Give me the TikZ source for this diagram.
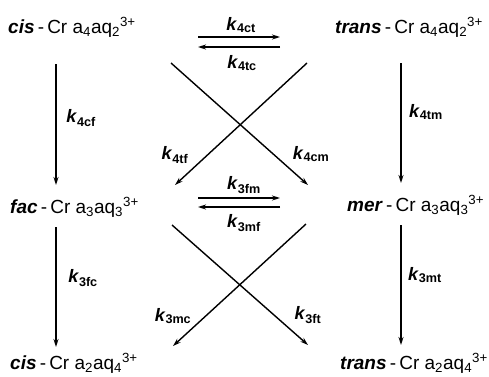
\documentclass[tikz,border=0pt]{standalone}
\usepackage{fontspec}
\setmainfont{Liberation Sans}
\usetikzlibrary{arrows.meta}
\tikzset{
  species/.style={anchor=base west, inner sep=0pt, font=\fontsize{19}{19}\selectfont},
  rate/.style={inner sep=0pt, font=\bfseries\fontsize{18}{18}\selectfont},
  rxn/.style={line width=1.4pt, -{Stealth[length=8pt,width=5pt]}},
}
\newcommand{\kk}[1]{\textit{k}\textsubscript{#1}}
\newcommand{\iso}[1]{\textbf{\textit{#1}}\,-\,}

\begin{document}
\begin{tikzpicture}[x=1pt,y=-1pt]
  \useasboundingbox (0,0) rectangle (489,376);
  % complexes
  \node[species] (cisT) at (8,33) {\iso{cis}Cr a\textsubscript{4}aq\textsubscript{2}\textsuperscript{3+}};
  \node[species] (transT) at (335,33) {\iso{trans}Cr a\textsubscript{4}aq\textsubscript{2}\textsuperscript{3+}};
  \node[species] (facM) at (10,213) {\iso{fac}Cr a\textsubscript{3}aq\textsubscript{3}\textsuperscript{3+}};
  \node[species] (merM) at (347,211) {\iso{mer}Cr a\textsubscript{3}aq\textsubscript{3}\textsuperscript{3+}};
  \node[species] (cisB) at (10,369) {\iso{cis}Cr a\textsubscript{2}aq\textsubscript{4}\textsuperscript{3+}};
  \node[species] (transB) at (340,369) {\iso{trans}Cr a\textsubscript{2}aq\textsubscript{4}\textsuperscript{3+}};
  % arrow ends
  \foreach \name/\x/\y in {cfA/56/64, cfB/56/185, fcA/56/227, fcB/56/347,
    tmA/401/63, tmB/401/183, mtA/401/225, mtB/401/345,
    ctA/198/37, ctB/280/37, tcA/280/47, tcB/198/47,
    fmA/198/198, fmB/280/198, mfA/280/207, mfB/198/207,
    cmA/171/63, cmB/308/185, tfA/307/63, tfB/175/185,
    ftA/172/225, ftB/308/345, mcA/306/224, mcB/173/346}{
    \coordinate (\name) at (\x,\y);
  }
  % reactions
  \foreach \a in {cf,fc,tm,mt,ct,tc,fm,mf,cm,tf,ft,mc}{
    \draw[rxn] (\a A) -- (\a B);
  }
  % rate constants
  \foreach \name/\x/\y/\sub in {kct/241/25/4ct, ktc/242/63/4tc, kfm/244/185/3fm,
    kmf/244/223/3mf, kcf/81/118/4cf, ktm/426/112/4tm, kfc/83/278/3fc,
    kmt/425/275/3mt, ktf/175/155/4tf, kcm/311/154/4cm, kmc/173/316/3mc,
    kft/308/315/3ft}{
    \node[rate] (\name) at (\x,\y) {\kk{\sub}};
  }
\end{tikzpicture}
\end{document}
